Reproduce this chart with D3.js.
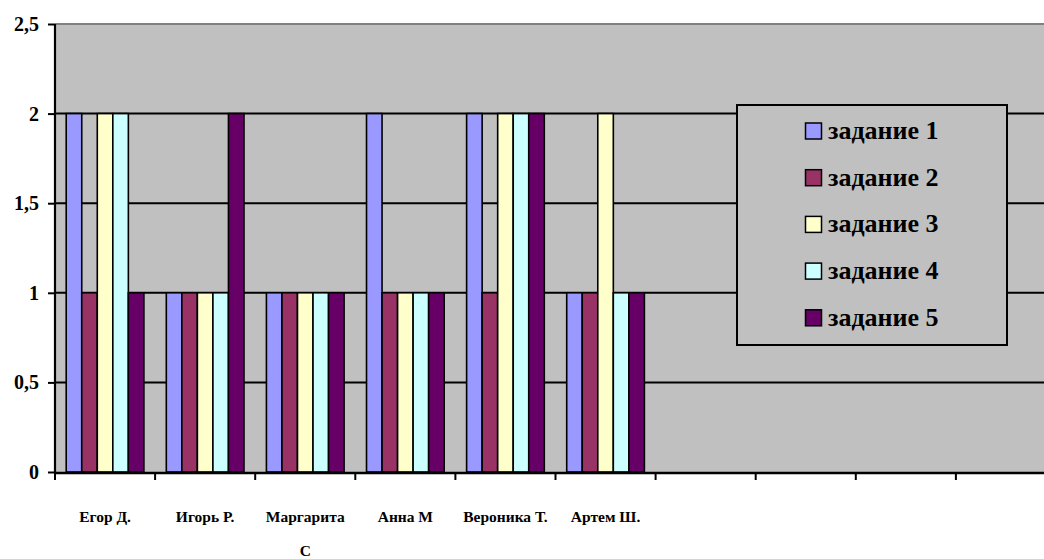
<!DOCTYPE html>
<html>
<head>
<meta charset="utf-8">
<script src="https://cdn.jsdelivr.net/npm/d3@7"></script>
<style>
  html, body { margin: 0; padding: 0; background: #ffffff; }
  svg { display: block; }
  svg text { font-family: "Liberation Serif", "Times New Roman", serif !important; font-weight: bold; fill: #000; }
</style>
</head>
<body>
<svg id="chart" width="1044" height="559"></svg>
<script>
// Students (the last four category slots are empty)
const categories = ["Егор Д.", "Игорь Р.", "Маргарита С", "Анна М", "Вероника Т.", "Артем Ш.", "", "", "", ""];
const seriesNames = ["задание 1", "задание 2", "задание 3", "задание 4", "задание 5"];
const task1 = [2, 1, 1, 2, 2, 1];
const task2 = [1, 1, 1, 1, 1, 1];
const task3 = [2, 1, 1, 1, 2, 2];
const task4 = [2, 1, 1, 1, 2, 1];
const task5 = [1, 2, 1, 1, 2, 1];
const yTicks = [0, 0.5, 1, 1.5, 2, 2.5];
const colors = ["#9999FF", "#993366", "#FFFFCC", "#CCFFFF", "#660066"];

const seriesValues = [task1, task2, task3, task4, task5];

const svg = d3.select("#chart");
const plotLeft = 55, plotRight = 1056, plotTop = 24, plotBottom = 472;

const x0 = d3.scaleBand().domain(d3.range(categories.length)).range([plotLeft, plotRight]).padding(0);
const bw = x0.bandwidth();
const x1 = d3.scaleBand().domain(d3.range(seriesNames.length))
  .range([bw * 0.112, bw * 0.888]).padding(0);
const y = d3.scaleLinear().domain([0, 2.5]).range([plotBottom, plotTop]);

// plot area
svg.append("rect")
  .attr("x", plotLeft).attr("y", plotTop)
  .attr("width", plotRight - plotLeft).attr("height", plotBottom - plotTop)
  .attr("fill", "#C0C0C0");

// horizontal gridlines
svg.append("g").selectAll("line")
  .data(yTicks.filter(t => t > 0 && t < 2.5))
  .join("line")
  .attr("x1", plotLeft).attr("x2", plotRight)
  .attr("y1", d => y(d)).attr("y2", d => y(d))
  .attr("stroke", "#000").attr("stroke-width", 2);

svg.append("line")
  .attr("x1", plotLeft).attr("x2", plotRight)
  .attr("y1", y(2.5)).attr("y2", y(2.5))
  .attr("stroke", "#808080").attr("stroke-width", 2);

// bars
const groups = svg.append("g").selectAll("g")
  .data(d3.range(task1.length))
  .join("g")
  .attr("transform", i => `translate(${x0(i)},0)`);

groups.selectAll("rect")
  .data(i => seriesValues.map((s, k) => ({ k, v: s[i] })))
  .join("rect")
  .attr("x", d => x1(d.k))
  .attr("y", d => y(d.v))
  .attr("width", x1.bandwidth())
  .attr("height", d => y(0) - y(d.v))
  .attr("fill", d => colors[d.k])
  .attr("stroke", "#000")
  .attr("stroke-width", 1.6);

// y axis
const yAxis = d3.axisLeft(y).tickValues(yTicks).tickSize(7)
  .tickFormat(d => String(d).replace(".", ","));
const gy = svg.append("g").attr("transform", `translate(${plotLeft},0)`).call(yAxis)
  .attr("font-family", null).attr("font-size", null);
gy.select(".domain").attr("stroke", "#000").attr("stroke-width", 2.2)
  .attr("d", `M0,${plotTop}V${plotBottom + 1}`);
gy.selectAll(".tick line").attr("stroke", "#000").attr("stroke-width", 2);
gy.selectAll(".tick text")
  .attr("x", -16)
  .attr("font-size", 20)
  .attr("fill", "#000");

// x axis
const xAxis = d3.axisBottom(x0).tickValues([]).tickSizeOuter(0);
const gx = svg.append("g").attr("transform", `translate(0,${plotBottom + 1})`).call(xAxis);
gx.select(".domain").attr("stroke", "#000").attr("stroke-width", 2.5)
  .attr("d", `M${plotLeft},0H${plotRight}`);

// x tick marks at the category boundaries
svg.append("g").selectAll("line")
  .data(d3.range(categories.length))
  .join("line")
  .attr("x1", i => x0(i)).attr("x2", i => x0(i))
  .attr("y1", plotBottom + 1).attr("y2", plotBottom + 8)
  .attr("stroke", "#000").attr("stroke-width", 2);

// category labels (long names wrap onto a second line)
const labels = svg.append("g").selectAll("text")
  .data(categories.map((c, i) => ({ c, i })).filter(d => d.c))
  .join("text")
  .attr("text-anchor", "middle")
  .attr("font-size", 15.5)
  .attr("x", d => x0(d.i) + bw / 2)
  .attr("y", 522);
labels.each(function (d) {
  const t = d3.select(this);
  const parts = d.c === "Маргарита С" ? ["Маргарита", "С"] : [d.c];
  parts.forEach((p, j) => {
    t.append("tspan").attr("x", x0(d.i) + bw / 2).attr("dy", j === 0 ? 0 : 34).text(p);
  });
});

// legend
const lg = svg.append("g");
lg.append("rect")
  .attr("x", 737).attr("y", 105).attr("width", 270).attr("height", 240)
  .attr("fill", "#C0C0C0").attr("stroke", "#000").attr("stroke-width", 2);
const items = lg.selectAll("g.item").data(seriesNames).join("g")
  .attr("class", "item")
  .attr("transform", (d, i) => `translate(805,${131 + i * 46.7})`);
items.append("rect")
  .attr("x", 0.5).attr("y", -8).attr("width", 16).attr("height", 16)
  .attr("fill", (d, i) => colors[i]).attr("stroke", "#000").attr("stroke-width", 1.5);
items.append("text")
  .attr("x", 23).attr("y", 8)
  .attr("font-size", 26)
  .text(d => d);
</script>
</body>
</html>
